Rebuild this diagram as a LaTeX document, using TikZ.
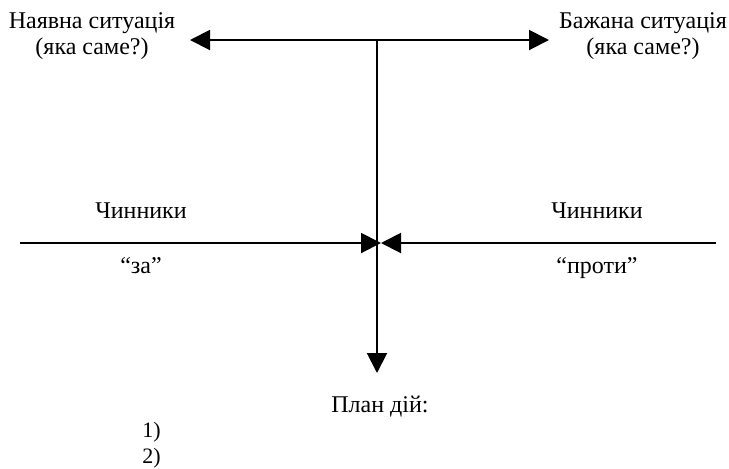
\documentclass[tikz,border=0pt]{standalone}
\usepackage{fontspec}
\setmainfont{Liberation Serif}
\usetikzlibrary{arrows.meta}

\tikzset{
  arr/.style={-{Triangle[length=10pt,width=10pt]}, line width=1pt},
  lbl/.style={inner sep=0pt, anchor=base, font=\fontsize{12}{13}\selectfont},
}

\begin{document}
\begin{tikzpicture}[x=0.5pt,y=-0.5pt]
\useasboundingbox (0,0) rectangle (729,468);

\coordinate (top) at (377,40);
\coordinate (now) at (190,40);
\coordinate (goal) at (549,40);

\coordinate (mid) at (377,243);
\coordinate (pro) at (20,243);
\coordinate (contra) at (716,243);
\coordinate (plan) at (377,373);

\node[lbl, align=center] (nowtext) at (92,54) {Наявна ситуація\\(яка саме?)};
\node[lbl, align=center] (goaltext) at (643,54) {Бажана ситуація\\(яка саме?)};

\node[lbl] (f1) at (141,218) {Чинники};
\node[lbl] (za) at (141,273) {“за”};
\node[lbl] (f2) at (597,218) {Чинники};
\node[lbl] (proty) at (597,273) {“проти”};

\node[lbl] (plantext) at (380,412) {План дій:};
\node[lbl, anchor=base west, font=\fontsize{11}{12}\selectfont] (p1) at (142,437) {1)};
\node[lbl, anchor=base west, font=\fontsize{11}{12}\selectfont] (p2) at (142,463) {2)};

\draw[arr] (top) -- (now);
\draw[arr] (top) -- (goal);
\draw[arr] (top) -- (plan);
\draw[arr] (pro) -- ([xshift=2]mid);
\draw[arr] (contra) -- ([xshift=2]mid);

\end{tikzpicture}
\end{document}
